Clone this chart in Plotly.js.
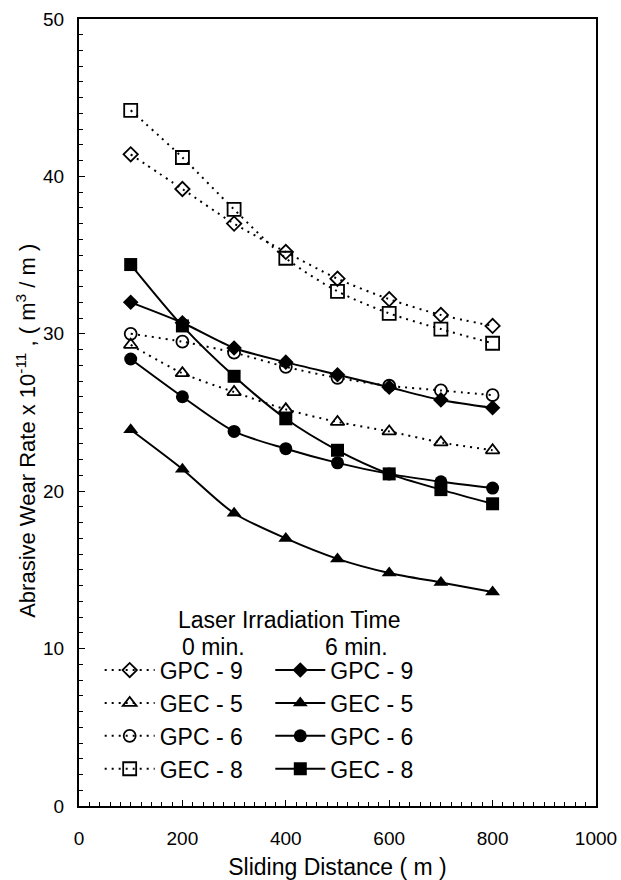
<!DOCTYPE html>
<html>
<head>
<meta charset="utf-8">
<script src="https://cdn.plot.ly/plotly-3.0.1.min.js"></script>
<style>html,body{margin:0;padding:0;background:#fff;}#chart{width:621px;height:880px;}</style>
</head>
<body>
<div id="chart"></div>
<script>
const distance = [100, 200, 300, 400, 500, 600, 700, 800];
const seriesNames = ['GPC - 9', 'GEC - 5', 'GPC - 6', 'GEC - 8'];
const gpc9_0 = [41.4, 39.2, 37.0, 35.2, 33.5, 32.2, 31.2, 30.5];
const gec5_0 = [29.3, 27.5, 26.3, 25.2, 24.4, 23.8, 23.1, 22.6];
const gpc6_0 = [30.0, 29.5, 28.8, 27.9, 27.2, 26.7, 26.4, 26.1];
const gec8_0 = [44.2, 41.2, 37.9, 34.8, 32.7, 31.3, 30.3, 29.4];
const gpc9_6 = [32.0, 30.7, 29.1, 28.2, 27.4, 26.6, 25.8, 25.3];
const gec5_6 = [23.9, 21.4, 18.6, 17.0, 15.7, 14.8, 14.2, 13.6];
const gpc6_6 = [28.4, 26.0, 23.8, 22.7, 21.8, 21.1, 20.6, 20.2];
const gec8_6 = [34.4, 30.5, 27.3, 24.6, 22.6, 21.1, 20.1, 19.2];
const xTickVals = [0, 200, 400, 600, 800, 1000];
const yTickVals = [0, 10, 20, 30, 40, 50];

const FONT = 'Liberation Sans, Arial, Helvetica, sans-serif';
const openSym = ['diamond-open', 'triangle-up-open', 'circle-open', 'square-open'];
const fillSym = ['diamond', 'triangle-up', 'circle', 'square'];
const openSize = [11, 12, 12, 13];
const fillSize = [12, 13, 13, 13];
const data0 = [gpc9_0, gec5_0, gpc6_0, gec8_0];
const data6 = [gpc9_6, gec5_6, gpc6_6, gec8_6];

const traces = [];
data0.forEach((ys, i) => {
  traces.push({
    x: distance, y: ys, name: seriesNames[i], type: 'scatter', mode: 'lines+markers',
    line: {color: '#000', width: 2, dash: '2px,5px', shape: 'spline', smoothing: 0.8},
    marker: {symbol: openSym[i], size: openSize[i], color: '#000', line: {width: 1.8, color: '#000'}},
    legend: 'legend'
  });
});
data6.forEach((ys, i) => {
  traces.push({
    x: distance, y: ys, name: seriesNames[i], type: 'scatter', mode: 'lines+markers',
    line: {color: '#000', width: 2, shape: 'spline', smoothing: 0.8},
    marker: {symbol: fillSym[i], size: fillSize[i], color: '#000'},
    legend: 'legend2'
  });
});

const legendCommon = {
  font: {family: FONT, size: 23, color: '#000'},
  bgcolor: 'rgba(0,0,0,0)', borderwidth: 0,
  xanchor: 'left', yanchor: 'top', itemwidth: 50, tracegroupgap: 0,
  traceorder: 'normal'
};

const layout = {
  width: 621, height: 880,
  margin: {l: 79, r: 25, t: 19, b: 74},
  paper_bgcolor: '#fff', plot_bgcolor: '#fff',
  font: {family: FONT, color: '#000'},
  showlegend: true,
  legend: Object.assign({}, legendCommon, {x: 0.04, y: 0.2}),
  legend2: Object.assign({}, legendCommon, {x: 0.37, y: 0.2}),
  xaxis: {
    range: [0, 1000], tickvals: xTickVals, ticktext: xTickVals.map(String),
    ticks: 'inside', ticklen: 6, tickwidth: 1, tickcolor: '#000',
    minor: {dtick: 20, ticks: 'inside', ticklen: 4, tickcolor: '#000', tickwidth: 1},
    showline: true, linecolor: '#000', linewidth: 2, mirror: true,
    showgrid: false, zeroline: false,
    tickfont: {family: FONT, size: 19, color: '#000'},
    ticklabelstandoff: 14,
    title: {text: 'Sliding Distance ( m )', font: {family: FONT, size: 23, color: '#000'}, standoff: 12}
  },
  yaxis: {
    range: [0, 50], tickvals: yTickVals, ticktext: yTickVals.map(String),
    ticks: 'inside', ticklen: 6, tickwidth: 1, tickcolor: '#000',
    minor: {dtick: 1, ticks: 'inside', ticklen: 4, tickcolor: '#000', tickwidth: 1},
    showline: true, linecolor: '#000', linewidth: 2, mirror: true,
    showgrid: false, zeroline: false,
    tickfont: {family: FONT, size: 19, color: '#000'},
    ticklabelstandoff: 9
  },
  annotations: [
    {text: 'Abrasive Wear Rate x 10<sup>-11</sup> , ( m<sup>3</sup> / m )', textangle: -90, xref: 'paper', yref: 'paper', x: -0.104, y: 0.477, showarrow: false, font: {family: FONT, size: 22, color: '#000'}, xanchor: 'center', yanchor: 'middle'},
    {text: 'Laser Irradiation Time', xref: 'paper', yref: 'paper', x: 0.406, y: 0.236, showarrow: false, font: {family: FONT, size: 23, color: '#000'}, xanchor: 'center', yanchor: 'middle'},
    {text: '0 min.', xref: 'paper', yref: 'paper', x: 0.261, y: 0.202, showarrow: false, font: {family: FONT, size: 23, color: '#000'}, xanchor: 'center', yanchor: 'middle'},
    {text: '6 min.', xref: 'paper', yref: 'paper', x: 0.536, y: 0.202, showarrow: false, font: {family: FONT, size: 23, color: '#000'}, xanchor: 'center', yanchor: 'middle'}
  ]
};

Plotly.newPlot('chart', traces, layout, {displayModeBar: false, staticPlot: true});
</script>
</body>
</html>
